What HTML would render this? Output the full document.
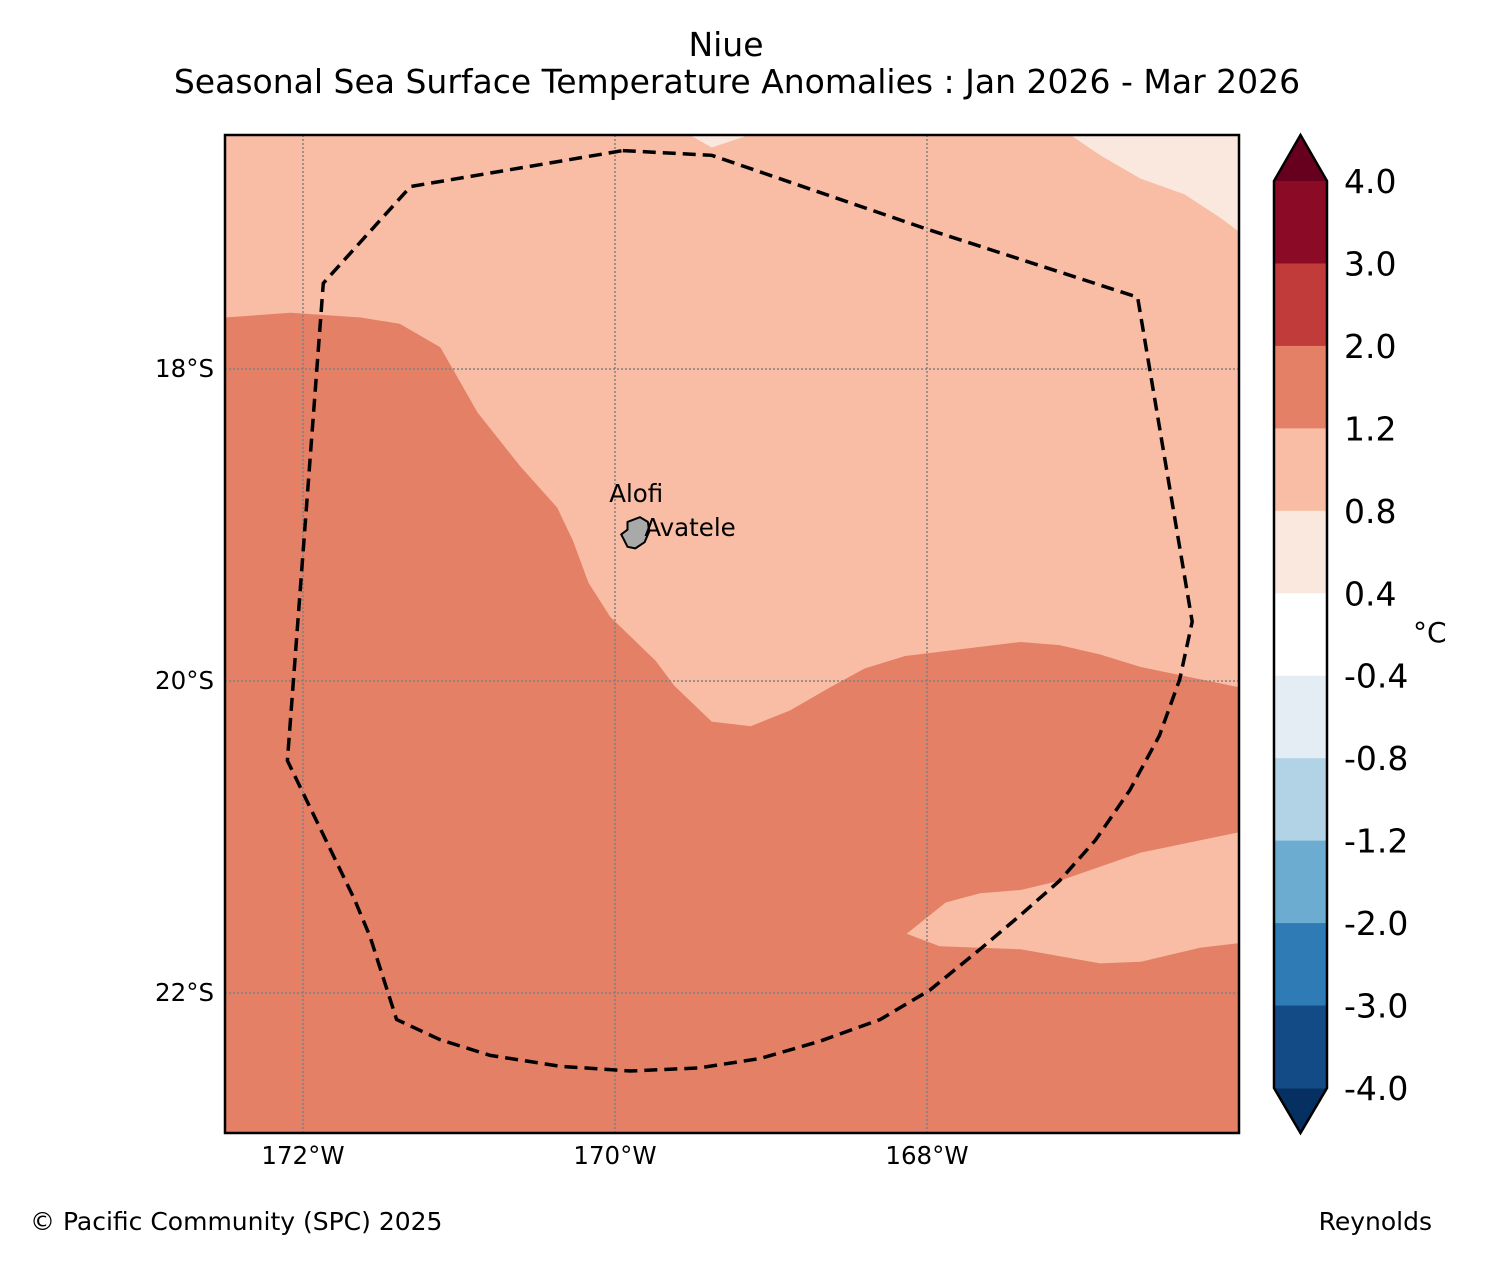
<!DOCTYPE html>
<html><head><meta charset="utf-8"><style>
html,body{margin:0;padding:0;background:#fff;}
svg{display:block;font-family:"DejaVu Sans","Liberation Sans",sans-serif;}
</style></head><body>
<svg id="chart" width="1488" height="1264" viewBox="0 0 1488 1264" xmlns="http://www.w3.org/2000/svg">
<text x="726" y="56" font-size="33" text-anchor="middle">Niue</text>
<text x="737" y="93" font-size="33" text-anchor="middle">Seasonal Sea Surface Temperature Anomalies : Jan 2026 - Mar 2026</text>
<g id="map"></g>
<g id="cbar"></g>
<text x="30" y="1230" font-size="25">© Pacific Community (SPC) 2025</text>
<text x="1432" y="1230" font-size="25" text-anchor="end">Reynolds</text>
</svg>
<script>
// ---- data ----
const lonTicks = [-172, -170, -168];
const lonTickLabels = ["172°W", "170°W", "168°W"];
const latTicks = [-18, -20, -22];
const latTickLabels = ["18°S", "20°S", "22°S"];
const bgLevelColor = "#f8bda4"; // 0.8–1.2
const warmLon = [-172.5,-172.08,-171.63,-171.38,-171.12,-170.88,-170.61,-170.37,-170.27,-170.17,-170.03,-169.74,-169.62,-169.38,-169.13,-168.88,-168.62,-168.40,-168.14,-167.40,-167.15,-166.89,-166.63,-166.0,-166.0,-166.63,-167.15,-167.40,-167.66,-167.88,-168.13,-167.92,-167.40,-166.89,-166.63,-166.25,-166.0,-166.0,-172.5];
const warmLat = [-17.67,-17.64,-17.67,-17.71,-17.86,-18.28,-18.62,-18.89,-19.10,-19.37,-19.59,-19.87,-20.03,-20.26,-20.29,-20.19,-20.04,-19.92,-19.84,-19.75,-19.77,-19.83,-19.91,-20.04,-20.97,-21.10,-21.28,-21.34,-21.36,-21.42,-21.62,-21.70,-21.72,-21.81,-21.80,-21.71,-21.68,-22.90,-22.90];
const coolLon1 = [-167.08,-166.89,-166.63,-166.35,-166.12,-166.0,-166.0];
const coolLat1 = [-16.50,-16.63,-16.78,-16.88,-17.03,-17.12,-16.50];
const coolLon2 = [-169.52,-169.38,-169.17,-169.17];
const coolLat2 = [-16.50,-16.58,-16.51,-16.50];
const eezLon = [-169.95,-169.38,-168.01,-166.65,-166.30,-166.38,-166.51,-166.70,-166.92,-167.15,-167.40,-167.66,-167.98,-168.30,-168.69,-169.07,-169.46,-169.90,-170.35,-170.80,-171.12,-171.40,-171.57,-171.67,-172.10,-171.87,-171.31,-169.95];
const eezLat = [-16.60,-16.63,-17.10,-17.54,-19.62,-19.99,-20.35,-20.70,-21.02,-21.28,-21.50,-21.72,-21.98,-22.17,-22.31,-22.42,-22.48,-22.50,-22.47,-22.40,-22.30,-22.17,-21.64,-21.40,-20.51,-17.45,-16.83,-16.60];
const islandLon = [-169.92,-169.84,-169.79,-169.78,-169.81,-169.87,-169.92,-169.94,-169.96,-169.92];
const islandLat = [-18.98,-18.95,-18.98,-19.04,-19.11,-19.15,-19.14,-19.10,-19.06,-19.03];
const cbarLevels = ["4.0","3.0","2.0","1.2","0.8","0.4","-0.4","-0.8","-1.2","-2.0","-3.0","-4.0"];
const cbarColors = ["#8b0a26","#c23b3b","#e38066","#f8bda4","#fae8de","#ffffff","#e5edf4","#b2d3e6","#6bacd0","#2f7bb6","#134b87"];
const cbarOverColor = "#67001f";
const cbarUnderColor = "#053061";

// ---- axes ----
const X0=225,X1=1239,Y0=135,Y1=1133;
const lonMin=-172.5, lonMax=-172.5+(X1-X0)/156;
const latMax=-16.5, latMin=-16.5-(Y1-Y0)/156;
const xs = lon => X0 + (lon-lonMin)/(lonMax-lonMin)*(X1-X0);
const ys = lat => Y0 + (latMax-lat)/(latMax-latMin)*(Y1-Y0);
const NS="http://www.w3.org/2000/svg";
function mk(tag, attrs, parent){const e=document.createElementNS(NS,tag);for(const k in attrs)e.setAttribute(k,attrs[k]);parent.appendChild(e);return e;}
function pts(lons,lats){return lons.map((l,i)=>xs(l).toFixed(1)+","+ys(lats[i]).toFixed(1)).join(" ");}
const map=document.getElementById("map");
const clip=mk("clipPath",{id:"mc"},map);
mk("rect",{x:X0,y:Y0,width:X1-X0,height:Y1-Y0},clip);
const g=mk("g",{"clip-path":"url(#mc)"},map);
let e;
e=mk("rect",{x:X0,y:Y0,width:X1-X0,height:Y1-Y0,fill:bgLevelColor},g);


e=mk("polygon",{points:pts(warmLon,warmLat),fill:"#e38066"},g);


e=mk("polygon",{points:pts(coolLon1,coolLat1),fill:"#fae8de"},g);


e=mk("polygon",{points:pts(coolLon2,coolLat2),fill:"#fae8de"},g);


// gridlines
lonTicks.forEach((l,i)=>{
  e=mk("line",{x1:xs(l),x2:xs(l),y1:Y0,y2:Y1,stroke:"#808080","stroke-width":1.5,"stroke-dasharray":"2,2"},g);
  
  
  e=mk("text",{x:xs(l),y:Y1+31,"font-size":24.5,"text-anchor":"middle"},map);
  e.textContent=lonTickLabels[i];
  
  
});
latTicks.forEach((l,i)=>{
  e=mk("line",{x1:X0,x2:X1,y1:ys(l),y2:ys(l),stroke:"#808080","stroke-width":1.5,"stroke-dasharray":"2,2"},g);
  
  
  e=mk("text",{x:X0-11,y:ys(l)+8,"font-size":24.5,"text-anchor":"end"},map);
  e.textContent=latTickLabels[i];
  
  
});
e=mk("polygon",{points:pts(eezLon,eezLat),fill:"none",stroke:"#000","stroke-width":3.5,"stroke-dasharray":"13,7"},g);


e=mk("polygon",{points:pts(islandLon,islandLat),fill:"#a9a9a9",stroke:"#000","stroke-width":2,"stroke-linejoin":"round"},g);


e=mk("text",{x:xs(-169.96)-12,y:ys(-18.82)+5,"font-size":24.5},map);
e.textContent="Alofi";


e=mk("text",{x:xs(-169.78)-5,y:ys(-19.04)+5,"font-size":24.5},map);
e.textContent="Avatele";


e=mk("rect",{x:X0,y:Y0,width:X1-X0,height:Y1-Y0,fill:"none",stroke:"#000","stroke-width":2.5},map);



// ---- colorbar ----
const cb=document.getElementById("cbar");
const CX0=1274,CX1=1327,CT=181,CB=1088,TIPT=135,TIPB=1133;
const n=cbarColors.length, h=(CB-CT)/n;
e=mk("polygon",{points:`${CX0},${CT} ${(CX0+CX1)/2},${TIPT} ${CX1},${CT}`,fill:cbarOverColor},cb);


e=mk("polygon",{points:`${CX0},${CB} ${(CX0+CX1)/2},${TIPB} ${CX1},${CB}`,fill:cbarUnderColor},cb);


cbarColors.forEach((c,i)=>{
  e=mk("rect",{x:CX0,y:CT+i*h,width:CX1-CX0,height:h+0.5,fill:c},cb);
  
  
});
e=mk("polygon",{points:`${CX0},${CT} ${(CX0+CX1)/2},${TIPT} ${CX1},${CT} ${CX1},${CB} ${(CX0+CX1)/2},${TIPB} ${CX0},${CB}`,fill:"none",stroke:"#000","stroke-width":2.5},cb);


cbarLevels.forEach((lab,i)=>{
  e=mk("text",{x:1344,y:CT+i*h+12,"font-size":33},cb);
  e.textContent=lab;
  
  
});
e=mk("text",{x:1413,y:642,"font-size":28},cb);
e.textContent="°C";


</script>
</body></html>
